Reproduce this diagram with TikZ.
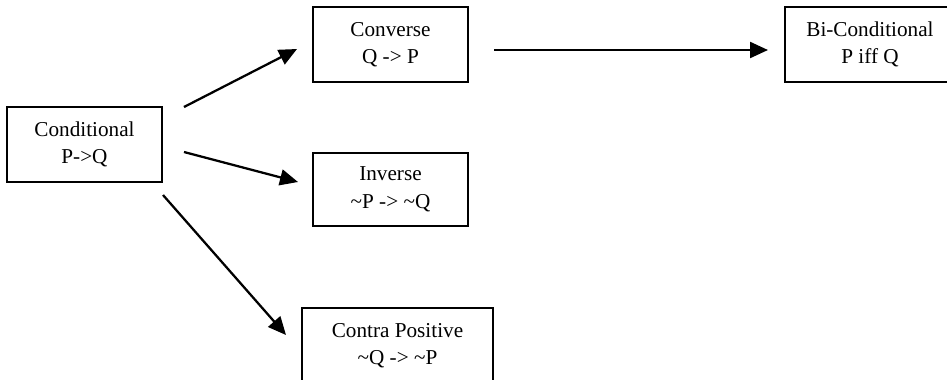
\documentclass[tikz,border=0pt]{standalone}
\usepackage{fontspec}
\setmainfont{Liberation Serif}
\usetikzlibrary{arrows.meta}
\begin{document}
\begin{tikzpicture}[x=0.75pt,y=-0.75pt,
  box/.style={draw=black,line width=1.5pt,fill=white,align=center,inner sep=0pt,
    minimum width=116.25pt,minimum height=56.25pt,font=\fontsize{15.9}{20.6}\selectfont},
  arr/.style={line width=1.7pt,-{Triangle[length=13.5pt,width=12pt]}}]
\fill[white] (0,0) rectangle (947,379);
\useasboundingbox (0,0) rectangle (947,379);
\clip (0,0) rectangle (947,379);
\node[box] (cond) at (84.5,144.5) {Conditional\\P->Q};
\node[box] (conv) at (390.5,44.5) {Converse\\Q -> P};
\node[box,minimum width=127.5pt] (bic) at (870,44.5) {Bi-Conditional\\P iff Q};
\node[box,minimum height=54.75pt] (inv) at (390.5,189.5) {Inverse\\\textasciitilde P -> \textasciitilde Q};
\node[box,minimum width=143.25pt] (contra) at (397.5,345.5) {Contra Positive\\\textasciitilde Q -> \textasciitilde P};
\draw[arr] ([shift={(21,1)}]cond.north east) -- ([shift={(-15,4.5)}]conv.west);
\draw[arr] ([shift={(25,5.5)}]conv.east) -- ([shift={(-16,5.5)}]bic.west);
\draw[arr] ([shift={(21,7.5)}]cond.east) -- ([shift={(-14,-7.5)}]inv.west);
\draw[arr] ([shift={(0,12)}]cond.south east) -- ([shift={(-15,-10.5)}]contra.west);
\end{tikzpicture}
\end{document}
